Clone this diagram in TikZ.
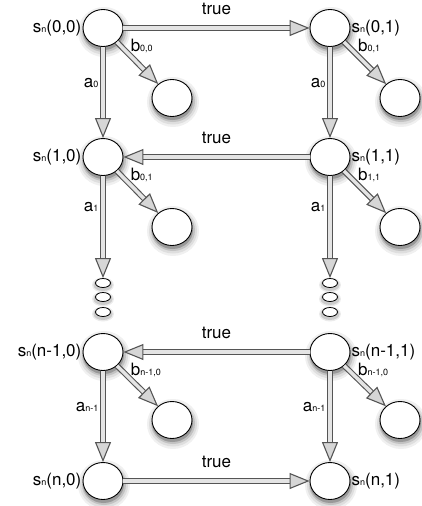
\documentclass[tikz,border=0pt]{standalone}
\usepackage{fontspec}
\setmainfont{TeX Gyre Heros}
\usetikzlibrary{arrows.meta,shapes,backgrounds,calc}
\definecolor{st-line}{HTML}{555555}
\definecolor{st-fill}{HTML}{D6D6D6}
\definecolor{st-core}{HTML}{E4E4E4}

\newcommand{\lsub}[1]{{\fontsize{9}{9}\selectfont #1}}

\tikzset{
  state/.style={ellipse, draw=black, line width=0.9pt, fill=white, minimum width=40pt, minimum height=37pt, inner sep=0pt},
  gap/.style={ellipse, draw=black, line width=0.8pt, fill=white, minimum width=15pt, minimum height=9pt, inner sep=0pt},
  move/.style={draw=st-line, line width=1.1pt, double=st-core, double distance=3.5pt,
    -{Triangle[length=20pt, width=16pt, fill=st-fill]}},
  lbl/.style={font=\fontsize{17}{17}\selectfont, inner sep=1pt},
  halo/.style={fill=black!#1, draw=none},
}

\begin{document}
\begin{tikzpicture}[x=1pt, y=1pt]
  \useasboundingbox (0,0) rectangle (422,-506);
  % states of the two columns
  \node[state, label={[lbl]left:{s\lsub{n}(0,0)}}] (s00) at (103,-28) {};
  \node[state, label={[lbl]right:{s\lsub{n}(0,1)}}] (s01) at (330,-28) {};
  \node[state, label={[lbl]left:{s\lsub{n}(1,0)}}] (s10) at (103,-157) {};
  \node[state, label={[lbl]right:{s\lsub{n}(1,1)}}] (s11) at (330,-157) {};
  \node[state, label={[lbl]left:{s\lsub{n}(n-1,0)}}] (sm0) at (103,-352) {};
  \node[state, label={[lbl]right:{s\lsub{n}(n-1,1)}}] (sm1) at (330,-352) {};
  \node[state, label={[lbl]left:{s\lsub{n}(n,0)}}] (sn0) at (103,-481) {};
  \node[state, label={[lbl]right:{s\lsub{n}(n,1)}}] (sn1) at (330,-481) {};
  % side states
  \node[state] (t00) at (172,-98) {};
  \node[state] (t01) at (400,-98) {};
  \node[state] (t10) at (172,-227) {};
  \node[state] (t11) at (400,-227) {};
  \node[state] (tm0) at (172,-420) {};
  \node[state] (tm1) at (400,-420) {};
  % dots
  \foreach \col/\x in {l/103, r/330} {
    \node[gap] (\col1) at (\x,-283) {};
    \node[gap] (\col2) at (\x,-297) {};
    \node[gap] (\col3) at (\x,-312) {};
  }

  % soft shadows
  \begin{scope}[on background layer]
    \foreach \n in {s00,s01,s10,s11,sm0,sm1,sn0,sn1,t00,t01,t10,t11,tm0,tm1} {
      \path[halo=6] ($(\n.center)+(1,-4)$) ellipse [x radius=26, y radius=25];
      \path[halo=13] ($(\n.center)+(1,-4)$) ellipse [x radius=24, y radius=22.5];
      \path[halo=24] ($(\n.center)+(1,-3.5)$) ellipse [x radius=22, y radius=20.5];
      \path[halo=40] ($(\n.center)+(0.5,-3)$) ellipse [x radius=20.5, y radius=19];
    }
    \foreach \n in {l1,l2,l3,r1,r2,r3} {
      \path[halo=8] ($(\n.center)+(0,-2)$) ellipse [x radius=11, y radius=7.5];
      \path[halo=20] ($(\n.center)+(0,-2)$) ellipse [x radius=9.5, y radius=6];
    }
  \end{scope}

  \draw[move] (s00) -- node[lbl, above=12pt] {true} (s01);
  \draw[move] (s11) -- node[lbl, above=12pt] {true} (s10);
  \draw[move] (sm1) -- node[lbl, above=12pt] {true} (sm0);
  \draw[move] (sn0) -- node[lbl, above=12pt] {true} (sn1);

  \draw[move] (s00) -- node[lbl, left=3pt, pos=0.4] {a\lsub{0}} (s10);
  \draw[move] (s01) -- node[lbl, left=3pt, pos=0.4] {a\lsub{0}} (s11);
  \draw[move] (s10) -- node[lbl, left=3pt, pos=0.3] {a\lsub{1}} (l1);
  \draw[move] (s11) -- node[lbl, left=3pt, pos=0.3] {a\lsub{1}} (r1);
  \draw[move] (sm0) -- node[lbl, left=3pt, pos=0.4] {a\lsub{n-1}} (sn0);
  \draw[move] (sm1) -- node[lbl, left=3pt, pos=0.4] {a\lsub{n-1}} (sn1);

  \draw[move] (s00) -- node[lbl, above right=0pt, pos=0.3] {b\lsub{0,0}} (t00);
  \draw[move] (s01) -- node[lbl, above right=0pt, pos=0.3] {b\lsub{0,1}} (t01);
  \draw[move] (s10) -- node[lbl, above right=0pt, pos=0.3] {b\lsub{0,1}} (t10);
  \draw[move] (s11) -- node[lbl, above right=0pt, pos=0.3] {b\lsub{1,1}} (t11);
  \draw[move] (sm0) -- node[lbl, above right=0pt, pos=0.3] {b\lsub{n-1,0}} (tm0);
  \draw[move] (sm1) -- node[lbl, above right=0pt, pos=0.3] {b\lsub{n-1,0}} (tm1);
\end{tikzpicture}
\end{document}
